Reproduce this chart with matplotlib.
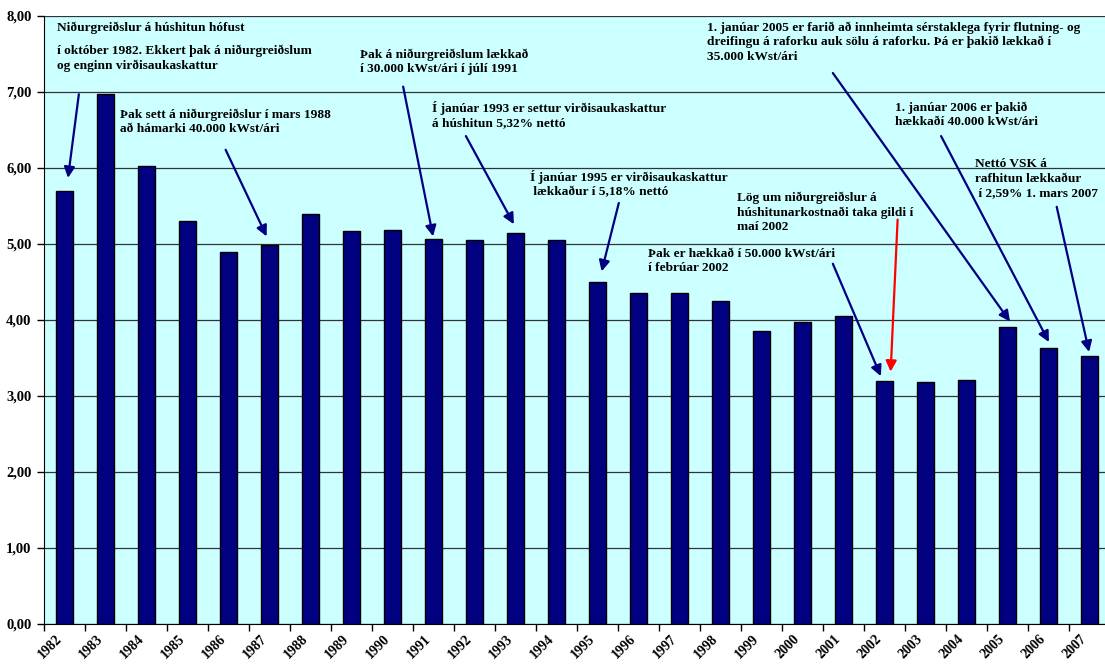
import matplotlib
matplotlib.use("Agg")
import matplotlib.pyplot as plt
from matplotlib.ticker import FixedLocator, NullFormatter

years = [str(y) for y in range(1982, 2008)]
values = [5.70, 6.97, 6.02, 5.30, 4.90, 4.99, 5.40, 5.17, 5.18, 5.07, 5.05, 5.15, 5.05,
          4.50, 4.35, 4.35, 4.25, 3.86, 3.97, 4.05, 3.20, 3.18, 3.21, 3.91, 3.63, 3.52]
y_ticks = [0, 1, 2, 3, 4, 5, 6, 7, 8]
y_tick_labels = ["0,00", "1,00", "2,00", "3,00", "4,00", "5,00", "6,00", "7,00", "8,00"]

# annotation texts (text, x, y in data units)
notes = [
    ("Niðurgreiðslur á húshitun hófust", -0.18, 7.84),
    ("í október 1982. Ekkert þak á niðurgreiðslum\nog enginn virðisaukaskattur", -0.18, 7.44),
    ("Þak sett á niðurgreiðslur í mars 1988\nað hámarki 40.000 kWst/ári", 1.35, 6.61),
    ("Þak á niðurgreiðslum lækkað\ní 30.000 kWst/ári í júlí 1991", 7.21, 7.40),
    ("Í janúar 1993 er settur virðisaukaskattur\ná húshitun 5,32% nettó", 8.96, 6.70),
    ("Í janúar 1995 er virðisaukaskattur\n lækkaður í 5,18% nettó", 11.35, 5.79),
    ("Þak er hækkað í 50.000 kWst/ári\ní febrúar 2002", 14.23, 4.78),
    ("Lög um niðurgreiðslur á\nhúshitunarkostnaði taka gildi í\nmaí 2002", 16.40, 5.42),
    ("1. janúar 2005 er farið að innheimta sérstaklega fyrir flutning- og\n"
     "dreifingu á raforku auk sölu á raforku. Þá er þakið lækkað í\n35.000 kWst/ári", 15.66, 7.66),
    ("1. janúar 2006 er þakið\nhækkaðí 40.000 kWst/ári", 20.26, 6.70),
    ("Nettó VSK á\nrafhitun lækkaður\n í 2,59% 1. mars 2007", 22.21, 5.86),
]

# arrows: (tail_x, tail_y, tip_x, tip_y, color)
arrows = [
    (0.35, 6.97, 0.085, 5.87, "#000080"),
    (3.93, 6.24, 4.93, 5.10, "#000080"),
    (8.26, 7.07, 8.99, 5.10, "#000080"),
    (9.79, 6.42, 10.96, 5.26, "#000080"),
    (13.52, 5.54, 13.10, 4.64, "#000080"),
    (18.74, 4.74, 19.91, 3.26, "#000080"),
    (20.32, 5.32, 20.15, 3.32, "#ff0000"),
    (18.74, 7.25, 23.06, 3.98, "#000080"),
    (21.38, 6.42, 24.01, 3.71, "#000080"),
    (24.20, 5.49, 24.99, 3.58, "#000080"),
]

FONT = "Liberation Serif"

fig = plt.figure(figsize=(11.05, 6.65), dpi=100)
W, H = 1105, 665
ax = fig.add_axes([44 / W, (H - 624) / H, (26 * 41) / W, 608 / H])
ax.set_facecolor("#CCFFFF")

xs = list(range(len(years)))
ax.bar(xs, values, width=0.4, color="#000080", edgecolor="black", linewidth=1.0, zorder=3)

ax.set_xlim(-0.5, len(years) - 0.5)
ax.set_ylim(0, 8)

ax.set_yticks(y_ticks)
ax.set_yticklabels(y_tick_labels, fontfamily=FONT, fontweight="bold", fontsize=10.5)
ax.yaxis.grid(True, color="#333333", linewidth=0.9, zorder=1)
ax.tick_params(axis="y", direction="out", length=5, width=1, pad=4)

# boundaries as major ticks, labels on minor ticks
ax.xaxis.set_major_locator(FixedLocator([i - 0.5 for i in range(len(years) + 1)]))
ax.xaxis.set_major_formatter(NullFormatter())
ax.xaxis.set_minor_locator(FixedLocator(xs))
ax.set_xticklabels(years, minor=True, rotation=45, ha="right", va="top",
                   fontfamily=FONT, fontweight="bold", fontsize=10)
ax.tick_params(axis="x", which="major", direction="out", length=5, width=1)
ax.tick_params(axis="x", which="minor", length=0, pad=6)

for s in ["top", "right"]:
    ax.spines[s].set_visible(False)
ax.spines["left"].set_color("black")
ax.spines["bottom"].set_color("black")

for txt, x, y in notes:
    ax.text(x, y, txt, ha="left", va="center", fontfamily=FONT, fontweight="bold",
            fontsize=9.6, linespacing=1.25, zorder=5)

for tx, ty, hx, hy, c in arrows:
    ax.annotate("", xy=(hx, hy), xytext=(tx, ty),
                arrowprops=dict(arrowstyle="-|>", color=c, lw=1.6, mutation_scale=16,
                                shrinkA=0, shrinkB=0), zorder=6)

fig.savefig("out.png", dpi=100)
